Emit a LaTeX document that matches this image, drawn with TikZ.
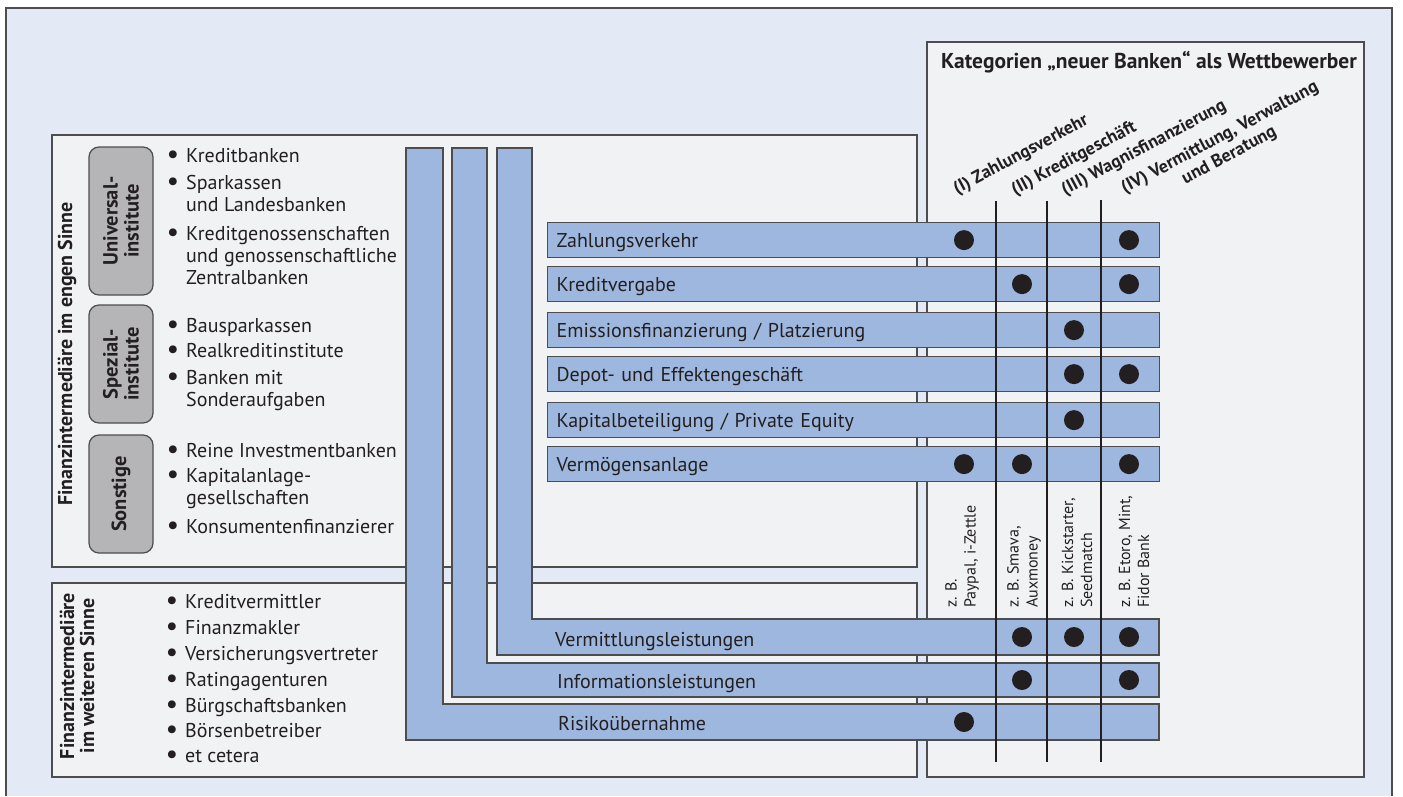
\documentclass[tikz,border=0pt]{standalone}
\usepackage{fontspec}
\setmainfont{PT Sans}
\definecolor{bgblue}{HTML}{E3E9F5}
\definecolor{panelgray}{HTML}{F1F2F4}
\definecolor{barblue}{HTML}{9EB7DF}
\definecolor{boxgray}{HTML}{B5B5B7}
\definecolor{linegray}{HTML}{4D4D4F}
\definecolor{textdark}{HTML}{231F20}
\newcommand{\itembul}{\llap{\raisebox{-1.5pt}{\fontsize{28}{22}\selectfont •}\hspace{7pt}}}
\begin{document}
\begin{tikzpicture}[x=1pt,y=-1pt,text=textdark,font=\fontsize{20}{22}\selectfont]
        \tikzstyle{panel}=[draw=linegray,line width=1.2pt,fill=panelgray]
        \tikzstyle{bar}=[draw=linegray,line width=1.2pt,fill=barblue]
        \tikzstyle{rowbar}=[bar,anchor=north west,minimum height=35pt,text width=594pt,inner xsep=9pt,inner ysep=0pt,text height=16pt,text depth=1pt,align=left]
        \tikzstyle{dot}=[circle,fill=textdark,inner sep=0pt,minimum size=20pt]
        \tikzstyle{item}=[anchor=base west,inner sep=0pt,align=left]
        \tikzstyle{instbox}=[draw=linegray,line width=1.2pt,fill=boxgray,rounded corners=10pt,rotate=90,align=center,minimum height=64pt,font=\bfseries\fontsize{20.5}{21}\selectfont]
        \tikzstyle{sidelabel}=[rotate=90,align=center,inner sep=0pt,font=\bfseries\fontsize{20}{20}\selectfont]
        \tikzstyle{cat}=[anchor=south west,rotate=28,inner sep=0pt,align=center,font=\bfseries\fontsize{18}{20}\selectfont]
        \tikzstyle{example}=[anchor=west,rotate=90,inner sep=0pt,align=left,font=\fontsize{16}{19}\selectfont]
        \useasboundingbox (0,0) rectangle (1403,796);
        \fill[white] (0,0) rectangle (1403,796);
        \fill[bgblue] (6,8) rectangle (1392,796);
        \draw[linegray,line width=1.2pt] (6,796) -- (6,8) -- (1392,8) -- (1392,796);
        \draw[panel] (52,135) rectangle (917,567);
        \draw[panel] (52,583) rectangle (917,777);
        \draw[panel] (927,42) rectangle (1364,777);
        \node[anchor=base west,inner sep=0pt,font=\bfseries\fontsize{21.5}{22}\selectfont] (head) at (941,68) {Kategorien „neuer Banken“ als Wettbewerber};
        \node[sidelabel] (eng) at (67,354) {Finanzintermediäre im engen Sinne};
        \node[sidelabel] (weit) at (77,676) {Finanzintermediäre\\im weiteren Sinne};
        \node[instbox,minimum width=148pt] (univ) at (121,221) {Universal-\\institute};
        \node[instbox,minimum width=118pt] (spez) at (121,364) {Spezial-\\institute};
        \node[instbox,minimum width=118pt] (sonst) at (121,494) {Sonstige};
        \node[item] (kb) at (186,162) {\itembul Kreditbanken};
        \node[item] (sk) at (186,211) {\itembul Sparkassen\\und Landesbanken};
        \node[item] (kg) at (186,284) {\itembul Kreditgenossenschaften\\und genossenschaftliche\\Zentralbanken};
        \node[item] (bs) at (186,332) {\itembul Bausparkassen};
        \node[item] (rk) at (186,357) {\itembul Realkreditinstitute};
        \node[item] (bm) at (186,406) {\itembul Banken mit\\Sonderaufgaben};
        \node[item] (ri) at (186,457) {\itembul Reine Investmentbanken};
        \node[item] (ka) at (186,504) {\itembul Kapitalanlage-\\gesellschaften};
        \node[item] (kf) at (186,533) {\itembul Konsumentenfinanzierer};
        \node[item] (kv) at (185,608) {\itembul Kreditvermittler};
        \node[item] (fm) at (185,634) {\itembul Finanzmakler};
        \node[item] (vv) at (185,660) {\itembul Versicherungsvertreter};
        \node[item] (ra) at (185,686) {\itembul Ratingagenturen};
        \node[item] (bb) at (185,712) {\itembul Bürgschaftsbanken};
        \node[item] (bo) at (185,737) {\itembul Börsenbetreiber};
        \node[item] (etc) at (185,762) {\itembul et cetera};
        \draw[bar] (406,148) -- (443,148) -- (443,704) -- (1159,704) -- (1159,740) -- (406,740) -- cycle;
        \draw[bar] (452,148) -- (487,148) -- (487,663) -- (1159,663) -- (1159,697) -- (452,697) -- cycle;
        \draw[bar] (497,148) -- (532,148) -- (532,619) -- (1159,619) -- (1159,655) -- (497,655) -- cycle;
        \node[item] (vl) at (555,646) {Vermittlungsleistungen};
        \node[item] (il) at (557,688) {Informationsleistungen};
        \node[item] (ru) at (558,730) {Risikoübernahme};
        \node[rowbar] (zv) at (547,222) {Zahlungsverkehr};
        \node[rowbar] (kr) at (547,266) {Kreditvergabe};
        \node[rowbar] (em) at (547,312) {Emissionsfinanzierung / Platzierung};
        \node[rowbar] (de) at (547,356) {Depot- und Effektengeschäft};
        \node[rowbar] (kp) at (547,402) {Kapitalbeteiligung / Private Equity};
        \node[rowbar] (va) at (547,446) {Vermögensanlage};
        \node[cat] (c1) at (959,198) {(I) Zahlungsverkehr};
        \node[cat] (c2) at (1017,199) {(II) Kreditgeschäft};
        \node[cat] (c3) at (1067,199) {(III) Wagnisfinanzierung};
        \node[cat] (c4) at (1136,215) {(IV) Vermittlung, Verwaltung\\und Beratung};
        \coordinate (v1t) at (996,201);
        \coordinate (v1b) at (996,762);
        \coordinate (v2t) at (1047,201);
        \coordinate (v2b) at (1047,762);
        \coordinate (v3t) at (1101,200);
        \coordinate (v3b) at (1101,762);
        \draw[textdark,line width=1.1pt] (v1t) -- (v1b);
        \draw[textdark,line width=1.1pt] (v2t) -- (v2b);
        \draw[textdark,line width=1.1pt] (v3t) -- (v3b);
        \node[example] (e1) at (962,608) {z. B.\\Paypal, i-Zettle};
        \node[example] (e2) at (1024,608) {z. B. Smava,\\Auxmoney};
        \node[example] (e3) at (1077,608) {z. B. Kickstarter,\\Seedmatch};
        \node[example] (e4) at (1134,608) {z. B. Etoro, Mint,\\Fidor Bank};
        \coordinate (k1) at (964,0);
        \coordinate (k2) at (1022,0);
        \coordinate (k3) at (1074,0);
        \coordinate (k4) at (1129,0);
        \node[dot] (zv1) at (zv.center -| k1) {};
        \node[dot] (zv4) at (zv.center -| k4) {};
        \node[dot] (kr2) at (kr.center -| k2) {};
        \node[dot] (kr4) at (kr.center -| k4) {};
        \node[dot] (em3) at (em.center -| k3) {};
        \node[dot] (de3) at (de.center -| k3) {};
        \node[dot] (de4) at (de.center -| k4) {};
        \node[dot] (kp3) at (kp.center -| k3) {};
        \node[dot] (va1) at (va.center -| k1) {};
        \node[dot] (va2) at (va.center -| k2) {};
        \node[dot] (va4) at (va.center -| k4) {};
        \node[dot] (vl2) at (1022,637) {};
        \node[dot] (vl3) at (1074,637) {};
        \node[dot] (vl4) at (1129,637) {};
        \node[dot] (il2) at (1022,680) {};
        \node[dot] (il4) at (1129,680) {};
        \node[dot] (ru1) at (964,722) {};
\end{tikzpicture}
\end{document}
